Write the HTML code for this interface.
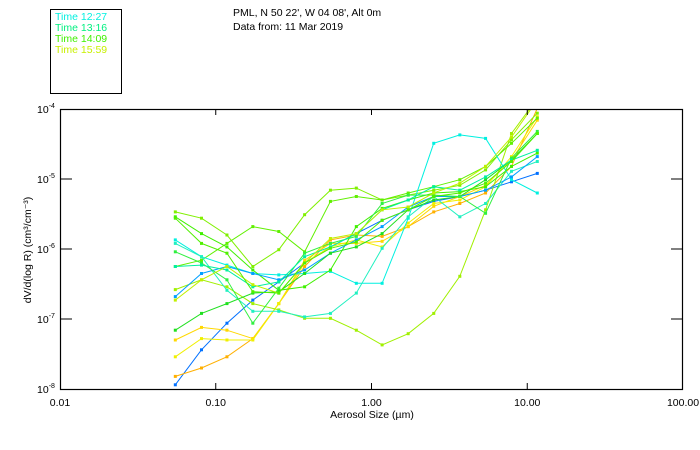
<!DOCTYPE html>
<html><head><meta charset="utf-8"><style>
body{margin:0;background:#fff;}
svg{display:block;font-family:"Liberation Sans",sans-serif;}
</style></head><body>
<svg id="chart" width="700" height="450" viewBox="0 0 700 450">
<defs><clipPath id="plotclip"><rect x="60" y="109" width="623" height="281"/></clipPath></defs>
<rect x="50.5" y="9.5" width="71" height="84" fill="none" stroke="#000"/>
<g font-size="10.5">
<text x="55" y="20" fill="#00f0e0">Time 12:27</text>
<text x="55" y="31" fill="#00f080">Time 13:16</text>
<text x="55" y="42" fill="#40f000">Time 14:09</text>
<text x="55" y="53" fill="#c8f000">Time 15:59</text>
</g>
<text x="233" y="16" font-size="10.5">PML, N 50 22', W 04 08', Alt 0m</text>
<text x="233" y="30" font-size="10.5">Data from: 11 Mar 2019</text>
<g id="series" clip-path="url(#plotclip)"></g>
<rect x="60.5" y="109.5" width="622" height="280" fill="none" stroke="#000" stroke-width="1.2"/>
<g id="axes" font-size="10.5"></g>
<text x="372" y="418" font-size="10.5" text-anchor="middle">Aerosol Size (µm)</text>
<text transform="translate(31,250) rotate(-90)" font-size="10.5" text-anchor="middle">dV/d(log R) (cm³/cm⁻³)</text>
</svg>
<script>
const xTicks=[0.01,0.1,1,10,100];
const xTickLabels=["0.01","0.10","1.00","10.00","100.00"];
const yTicks=[-4,-5,-6,-7,-8];
const yTickLabels=["-4","-5","-6","-7","-8"];
const sizes=[0.055,0.081,0.118,0.173,0.254,0.372,0.545,0.799,1.17,1.72,2.51,3.69,5.40,7.92,11.6];
const colors=["#0070ff","#ffb000","#ffd800","#f0f000","#a0f000","#80f000","#60f000","#00f0e0","#20f0c0","#40f000","#00a0ff","#20e020","#30f040","#00f0a0","#c0f000","#50f000"];
const series=[
[-7.94,-7.44,-7.06,-6.73,-6.47,-6.20,-5.97,-5.78,-5.59,-5.44,-5.32,-5.25,-5.16,-5.04,-4.92],
[-7.82,-7.70,-7.54,-7.28,-6.78,-6.25,-5.87,-5.80,-5.82,-5.68,-5.47,-5.35,-5.20,-4.82,-3.99],
[-7.30,-7.12,-7.16,-7.28,-6.78,-6.16,-5.92,-5.92,-5.89,-5.68,-5.39,-5.25,-5.09,-4.73,-4.16],
[-7.54,-7.28,-7.30,-7.30,-6.78,-6.20,-5.97,-5.87,-5.97,-5.63,-5.35,-5.30,-5.11,-4.68,-4.11],
[-6.58,-6.44,-6.54,-6.78,-6.87,-6.99,-6.99,-7.16,-7.37,-7.21,-6.92,-6.39,-5.44,-4.35,-3.85],
[-5.47,-5.56,-5.80,-6.25,-6.01,-5.51,-5.16,-5.13,-5.30,-5.23,-5.16,-5.09,-4.87,-4.44,-4.06],
[-6.25,-6.16,-5.92,-5.68,-5.75,-6.04,-5.32,-5.25,-5.30,-5.20,-5.11,-5.01,-4.82,-4.49,-4.13],
[-5.87,-6.11,-6.23,-6.35,-6.37,-6.35,-6.32,-6.49,-6.49,-5.56,-4.49,-4.37,-4.42,-5.01,-5.20],
[-5.92,-6.11,-6.59,-6.89,-6.89,-6.97,-6.92,-6.63,-5.99,-5.54,-5.25,-5.54,-5.35,-4.89,-4.75],
[-5.54,-5.78,-5.97,-6.30,-6.59,-6.54,-6.30,-5.68,-5.42,-5.30,-5.20,-5.18,-5.11,-4.82,-4.63],
[-6.68,-6.35,-6.25,-6.35,-6.44,-6.30,-6.06,-5.87,-5.68,-5.40,-5.25,-5.25,-5.16,-4.97,-4.68],
[-7.16,-6.92,-6.78,-6.63,-6.61,-6.35,-6.06,-5.97,-5.78,-5.44,-5.30,-5.25,-5.01,-4.73,-4.35],
[-6.04,-6.20,-6.44,-7.06,-6.56,-6.06,-5.92,-5.82,-5.35,-5.23,-5.23,-5.25,-5.49,-4.70,-4.32],
[-6.25,-6.23,-6.30,-6.54,-6.47,-6.11,-5.97,-5.78,-5.44,-5.30,-5.11,-5.16,-4.97,-4.73,-4.59],
[-6.73,-6.44,-6.25,-6.51,-6.63,-6.20,-5.85,-5.78,-5.44,-5.40,-5.20,-5.06,-4.82,-4.40,-3.87],
[-5.56,-5.92,-6.06,-6.61,-6.63,-6.20,-5.99,-5.90,-5.59,-5.44,-5.25,-5.20,-5.06,-4.75,-4.35]
];
const NS="http://www.w3.org/2000/svg";
function xScale(v){return 60+(Math.log10(v)+2)*155.75;}
function yScale(l){return 109+(-4-l)*70;}
const axes=document.getElementById('axes');
function mk(tag,attrs,parent){const e=document.createElementNS(NS,tag);for(const k in attrs)e.setAttribute(k,attrs[k]);parent.appendChild(e);return e;}
xTicks.forEach((t,i)=>{
  const x=xScale(t);
  if(i>0&&i<xTicks.length-1){
    const a=mk('line',{x1:x,x2:x,y1:389,y2:383,stroke:'#000'},axes);
    
    
    const b=mk('line',{x1:x,x2:x,y1:109,y2:115,stroke:'#000'},axes);
    
    
  }
  const tx=mk('text',{x:x,y:406,'text-anchor':'middle'},axes);
  tx.textContent=xTickLabels[i];
  
  
});
yTicks.forEach((t,i)=>{
  const y=yScale(t);
  if(i>0&&i<yTicks.length-1){
    const a=mk('line',{x1:60,x2:72,y1:y,y2:y,stroke:'#000'},axes);
    
    
    const b=mk('line',{x1:683,x2:671,y1:y,y2:y,stroke:'#000'},axes);
    
    
  }
  const tx=mk('text',{x:37,y:y+4},axes);
  tx.textContent='10';
  const sp=mk('tspan',{dy:-5,'font-size':'7'},tx);
  sp.textContent=yTickLabels[i];
  
  
});
const g=document.getElementById('series');
series.forEach((s,si)=>{
  const c=colors[si%colors.length];
  const pts=s.map((v,i)=>xScale(sizes[i]).toFixed(1)+','+yScale(v).toFixed(1)).join(' ');
  const pl=mk('polyline',{points:pts,fill:'none',stroke:c,'stroke-width':1},g);
  
  
  s.forEach((v,i)=>{
    const r=mk('rect',{x:xScale(sizes[i])-1.5,y:yScale(v)-1.5,width:3,height:3,fill:c},g);
    
    
  });
});
</script>
</body></html>
